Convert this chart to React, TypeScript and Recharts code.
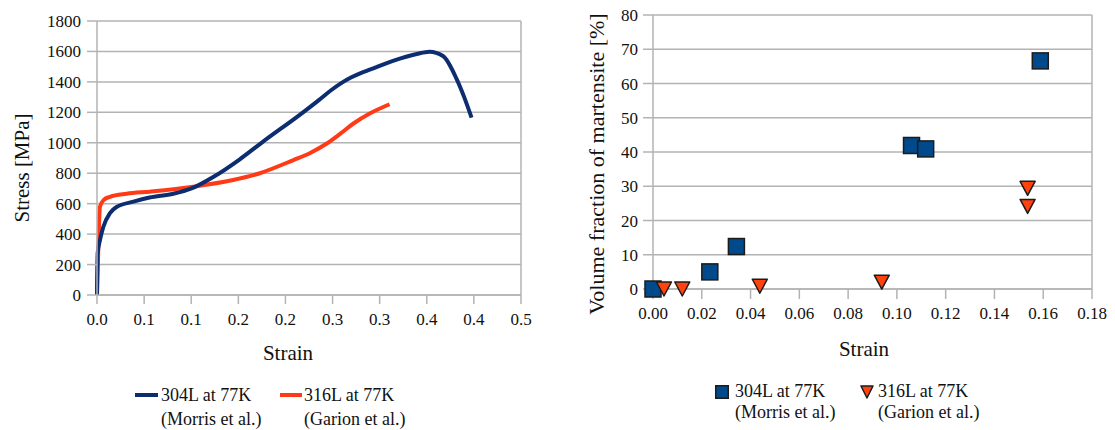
import React from "react";
import {
  CartesianGrid,
  Line,
  LineChart,
  ReferenceLine,
  Scatter,
  ScatterChart,
  XAxis,
  YAxis,
} from "recharts";

// stress-strain curves, strain [-] vs stress [MPa]
const morrisCurve = [
  { x: 0, y: 0 },
  { x: 0.0008, y: 275 },
  { x: 0.0035, y: 360 },
  { x: 0.0074, y: 447 },
  { x: 0.0153, y: 538 },
  { x: 0.023, y: 578 },
  { x: 0.043, y: 613 },
  { x: 0.062, y: 640 },
  { x: 0.09, y: 665 },
  { x: 0.1115, y: 700 },
  { x: 0.137, y: 775 },
  { x: 0.168, y: 890 },
  { x: 0.194, y: 1000 },
  { x: 0.243, y: 1200 },
  { x: 0.262, y: 1282 },
  { x: 0.276, y: 1345 },
  { x: 0.288, y: 1392 },
  { x: 0.3, y: 1430 },
  { x: 0.311, y: 1458 },
  { x: 0.3216, y: 1480 },
  { x: 0.349, y: 1538 },
  { x: 0.377, y: 1583 },
  { x: 0.392, y: 1598 },
  { x: 0.408, y: 1570 },
  { x: 0.424, y: 1420 },
  { x: 0.433, y: 1300 },
  { x: 0.4417, y: 1165 },
];

const garionCurve = [
  { x: 0, y: 0 },
  { x: 0.0015, y: 300 },
  { x: 0.0035, y: 580 },
  { x: 0.008, y: 625 },
  { x: 0.0153, y: 645 },
  { x: 0.035, y: 665 },
  { x: 0.0624, y: 679 },
  { x: 0.1134, y: 711 },
  { x: 0.1605, y: 755 },
  { x: 0.192, y: 800 },
  { x: 0.231, y: 885 },
  { x: 0.252, y: 935 },
  { x: 0.271, y: 995 },
  { x: 0.287, y: 1060 },
  { x: 0.302, y: 1125 },
  { x: 0.3216, y: 1192 },
  { x: 0.345, y: 1253 },
];

// martensite fraction, strain vs volume %
const morrisMartensite = [
  { x: 0, y: 0 },
  { x: 0.0233, y: 5 },
  { x: 0.0342, y: 12.4 },
  { x: 0.106, y: 41.9 },
  { x: 0.1118, y: 40.9 },
  { x: 0.1588, y: 66.6 },
];

const garionMartensite = [
  { x: 0.0045, y: 0 },
  { x: 0.012, y: 0 },
  { x: 0.0438, y: 0.8 },
  { x: 0.0938, y: 2 },
  { x: 0.1536, y: 29.4 },
  { x: 0.1536, y: 24.1 },
];

const stressTicks = [0, 200, 400, 600, 800, 1000, 1200, 1400, 1600, 1800];
const strainTicks = [0, 0.0556, 0.1111, 0.1667, 0.2222, 0.2778, 0.3333, 0.3889, 0.4444, 0.5];
const fractionTicks = [0, 10, 20, 30, 40, 50, 60, 70, 80];
const smallStrainTicks = [0, 0.02, 0.04, 0.06, 0.08, 0.1, 0.12, 0.14, 0.16, 0.18];

const font = '"Liberation Serif", serif';
const grid = "#b3b3b3";
const navy = "#0c2e70";
const red = "#ff3b17";
const blueSq = "#004a8c";
const orangeTri = "#ff420e";

const tick = { fill: "#111", fontSize: 17, fontFamily: font };

const Square = (p: any) => (
  <rect x={p.cx - 8} y={p.cy - 8} width={16} height={16} fill={blueSq} stroke="#1b1b1b" strokeWidth={1.5} />
);

const DownTri = (p: any) => (
  <path
    d={`M${p.cx - 7.5},${p.cy - 7} L${p.cx + 7.5},${p.cy - 7} L${p.cx},${p.cy + 7} Z`}
    fill={orangeTri}
    stroke="#1b1b1b"
    strokeWidth={1.5}
    strokeLinejoin="round"
  />
);

const label = (x: number, y: number, text: string, rotate = false, size = 21) => (
  <div
    style={{
      position: "absolute",
      left: x,
      top: y,
      transform: `translate(-50%, -50%)${rotate ? " rotate(-90deg)" : ""}`,
      whiteSpace: "nowrap",
      fontFamily: font,
      fontSize: size,
      lineHeight: 1,
      color: "#111",
    }}
  >
    {text}
  </div>
);

const legendText = { position: "absolute" as const, top: 0, whiteSpace: "nowrap" as const, fontFamily: font };

export default function App() {
  return (
    <div
      style={{
        position: "absolute",
        left: 0,
        top: 0,
        width: 1115,
        height: 430,
        background: "#fff",
        fontFamily: font,
      }}
    >
      <div style={{ position: "absolute", left: 0, top: 0 }}>
        <LineChart width={540} height={330} margin={{ top: 21, right: 19, bottom: 5, left: 0 }}>
          <CartesianGrid vertical={false} stroke={grid} strokeWidth={1.5} />
          <XAxis
            type="number"
            dataKey="x"
            domain={[0, 0.5]}
            ticks={strainTicks}
            tickFormatter={(v: number) => v.toFixed(1)}
            height={30}
            tick={tick}
            tickSize={9}
            tickMargin={9}
            stroke={grid}
            strokeWidth={1.5}
            interval={0}
            allowDuplicatedCategory={false}
          />
          <YAxis
            type="number"
            domain={[0, 1800]}
            ticks={stressTicks}
            width={97}
            tick={tick}
            tickSize={10}
            tickMargin={6}
            stroke={grid}
            strokeWidth={1.5}
            interval={0}
          />
          <ReferenceLine x={0.5} stroke={grid} strokeWidth={1.5} />
          <Line
            data={garionCurve}
            dataKey="y"
            type="monotone"
            stroke={red}
            strokeWidth={4}
            dot={false}
            isAnimationActive={false}
          />
          <Line
            data={morrisCurve}
            dataKey="y"
            type="monotone"
            stroke={navy}
            strokeWidth={4}
            dot={false}
            isAnimationActive={false}
          />
        </LineChart>
      </div>

      <div style={{ position: "absolute", left: 560, top: 0 }}>
        <ScatterChart width={555} height={330} margin={{ top: 15, right: 23, bottom: 11, left: 0 }}>
          <CartesianGrid vertical={false} stroke={grid} strokeWidth={1.5} />
          <XAxis
            type="number"
            dataKey="x"
            domain={[0, 0.18]}
            ticks={smallStrainTicks}
            tickFormatter={(v: number) => v.toFixed(2)}
            height={30}
            tick={tick}
            tickSize={10}
            tickMargin={8}
            stroke={grid}
            strokeWidth={1.5}
            interval={0}
          />
          <YAxis
            type="number"
            dataKey="y"
            domain={[0, 80]}
            ticks={fractionTicks}
            width={93}
            tick={tick}
            tickSize={10}
            tickMargin={5}
            stroke={grid}
            strokeWidth={1.5}
            interval={0}
          />
          <ReferenceLine x={0.18} stroke={grid} strokeWidth={1.5} />
          <Scatter data={morrisMartensite} shape={Square} isAnimationActive={false} />
          <Scatter data={garionMartensite} shape={DownTri} isAnimationActive={false} />
        </ScatterChart>
      </div>

      {label(22, 168, "Stress [MPa]", true)}
      {label(288, 353, "Strain")}
      {label(597, 164, "Volume fraction of martensite [%]", true, 22)}
      {label(864, 349, "Strain")}

      {/* left legend */}
      <div style={{ position: "absolute", left: 135, top: 383, fontSize: 18, lineHeight: "24px", color: "#111" }}>
        <div style={{ position: "absolute", left: 0, top: 10, width: 23, height: 4, background: navy }} />
        <div style={{ ...legendText, left: 26 }}>
          304L at 77K
          <br />
          (Morris et al.)
        </div>
        <div style={{ position: "absolute", left: 145, top: 10, width: 22, height: 4, background: red }} />
        <div style={{ ...legendText, left: 169 }}>
          316L at 77K
          <br />
          (Garion et al.)
        </div>
      </div>

      {/* right legend */}
      <div style={{ position: "absolute", left: 715, top: 381, fontSize: 18, lineHeight: "21px", color: "#111" }}>
        <svg style={{ position: "absolute", left: 0, top: 4 }} width={14} height={14}>
          <rect x={0.75} y={0.75} width={12.5} height={12.5} fill={blueSq} stroke="#1b1b1b" strokeWidth={1.5} />
        </svg>
        <div style={{ ...legendText, left: 20 }}>
          304L at 77K
          <br />
          (Morris et al.)
        </div>
        <svg style={{ position: "absolute", left: 145, top: 4 }} width={14} height={14}>
          <path d="M1,1 L13,1 L7,13 Z" fill={orangeTri} stroke="#1b1b1b" strokeWidth={1.5} strokeLinejoin="round" />
        </svg>
        <div style={{ ...legendText, left: 163 }}>
          316L at 77K
          <br />
          (Garion et al.)
        </div>
      </div>
    </div>
  );
}
